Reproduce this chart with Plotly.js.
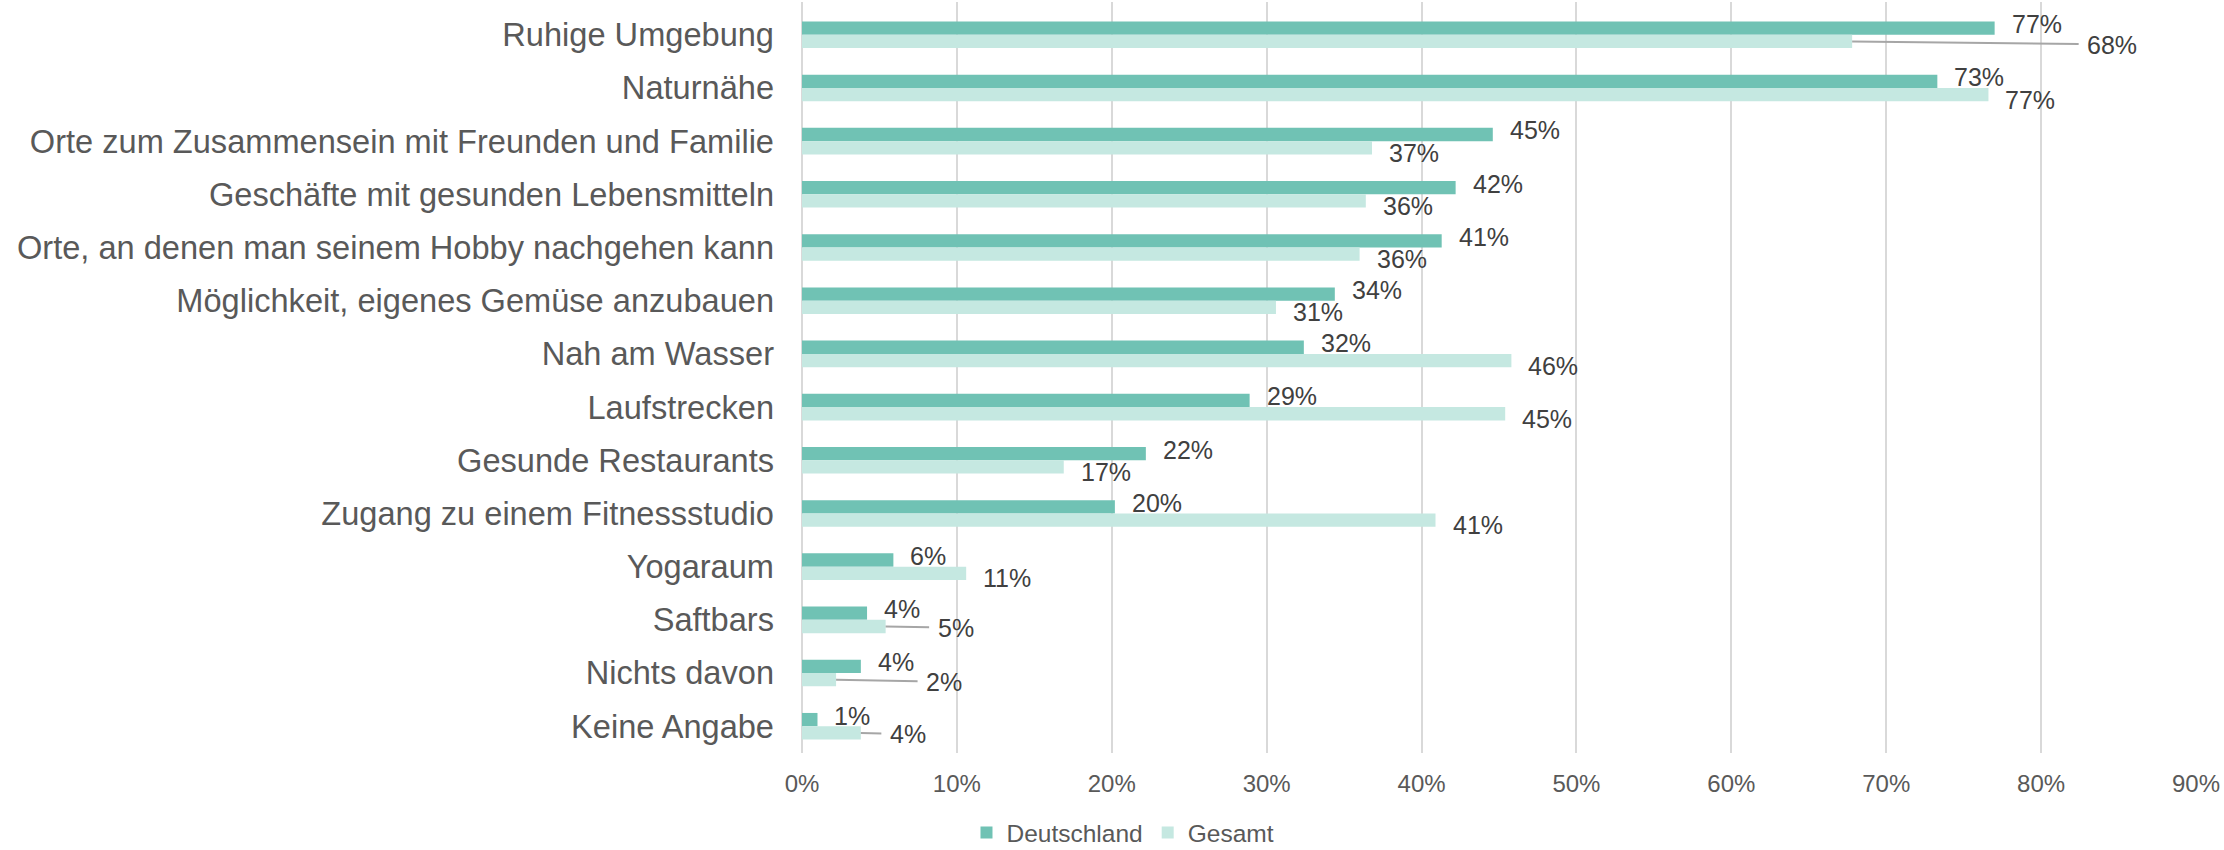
<!DOCTYPE html>
<html>
<head>
<meta charset="utf-8">
<script src="https://cdn.plot.ly/plotly-3.0.1.min.js"></script>
<style>
  html, body { margin: 0; padding: 0; background: #ffffff; }
  #chart { width: 2224px; height: 850px; }
</style>
</head>
<body>
<div id="chart"></div>
<script>
// ---- data ----
const categories = [
  "Ruhige Umgebung",
  "Naturnähe",
  "Orte zum Zusammensein mit Freunden und Familie",
  "Geschäfte mit gesunden Lebensmitteln",
  "Orte, an denen man seinem Hobby nachgehen kann",
  "Möglichkeit, eigenes Gemüse anzubauen",
  "Nah am Wasser",
  "Laufstrecken",
  "Gesunde Restaurants",
  "Zugang zu einem Fitnessstudio",
  "Yogaraum",
  "Saftbars",
  "Nichts davon",
  "Keine Angabe"
];
const deutschland = [77.0, 73.3, 44.6, 42.2, 41.3, 34.4, 32.4, 28.9, 22.2, 20.2, 5.9, 4.2, 3.8, 1.0];
const gesamt      = [67.8, 76.6, 36.8, 36.4, 36.0, 30.6, 45.8, 45.4, 16.9, 40.9, 10.6, 5.4, 2.2, 3.8];
const seriesNames = ["Deutschland", "Gesamt"];
const xTickValues = [0, 10, 20, 30, 40, 50, 60, 70, 80, 90];

// ---- styling / layout config ----
const colDark = "#70C2B4";
const colLight = "#C5E8E1";
const font = "Liberation Sans, Arial, sans-serif";
const barHalf = 6.75;  // px, half of one bar's thickness
// labels of the Gesamt series that are moved out with a leader line: index -> [ax, ay] px
const gesamtLeader = { 0: [260, 3], 11: [70, 1], 12: [108, 2], 13: [47, 1] };

const traces = [
  { type: "bar", orientation: "h", name: seriesNames[0], y: categories, x: deutschland,
    marker: { color: colDark }, hoverinfo: "x+y" },
  { type: "bar", orientation: "h", name: seriesNames[1], y: categories, x: gesamt,
    marker: { color: colLight }, hoverinfo: "x+y" }
];

const labelFont = { family: font, size: 25, color: "#404040" };
const annotations = [];
categories.forEach((c, i) => {
  annotations.push({
    x: deutschland[i], y: c, xref: "x", yref: "y",
    text: Math.round(deutschland[i]) + "%", showarrow: false,
    xanchor: "left", yanchor: "middle", xshift: 15, yshift: barHalf + 4,
    font: labelFont
  });
  if (gesamtLeader[i]) {
    annotations.push({
      x: gesamt[i], y: c, xref: "x", yref: "y",
      text: Math.round(gesamt[i]) + "%", showarrow: true,
      arrowhead: 0, arrowwidth: 2, arrowcolor: "#A6A6A6", standoff: 0,
      ax: gesamtLeader[i][0], ay: gesamtLeader[i][1], borderpad: 8,
      yshift: -barHalf, font: labelFont
    });
  } else {
    annotations.push({
      x: gesamt[i], y: c, xref: "x", yref: "y",
      text: Math.round(gesamt[i]) + "%", showarrow: false,
      xanchor: "left", yanchor: "middle", xshift: 15, yshift: -barHalf - 5,
      font: labelFont
    });
  }
});

const layout = {
  width: 2224, height: 850,
  margin: { l: 802, r: 28, t: 2, b: 97, pad: 0, autoexpand: false },
  paper_bgcolor: "#ffffff", plot_bgcolor: "#ffffff",
  barmode: "group", bargap: 0.5, bargroupgap: 0,
  font: { family: font, color: "#595959" },
  xaxis: {
    range: [0, 90], tickvals: xTickValues, ticktext: xTickValues.map(v => v + "%"),
    showgrid: true, gridcolor: "#D9D9D9", gridwidth: 2,
    zeroline: true, zerolinecolor: "#D9D9D9", zerolinewidth: 2,
    showline: false, ticks: "", ticklabelstandoff: 14,
    tickfont: { family: font, size: 24, color: "#595959" }, fixedrange: true
  },
  yaxis: {
    type: "category", autorange: "reversed",
    showgrid: false, zeroline: false, showline: false, ticks: "",
    ticklabelstandoff: 27,
    tickfont: { family: font, size: 32.6, color: "#595959" }, fixedrange: true
  },
  legend: {
    orientation: "h", x: 0.118, xanchor: "left", y: -0.106, yanchor: "middle",
    font: { family: font, size: 24.5, color: "#595959" },
    itemwidth: 30, traceorder: "normal"
  },
  annotations: annotations,
  showlegend: true
};

Plotly.newPlot("chart", traces, layout, { displayModeBar: false, staticPlot: true });
</script>
</body>
</html>
